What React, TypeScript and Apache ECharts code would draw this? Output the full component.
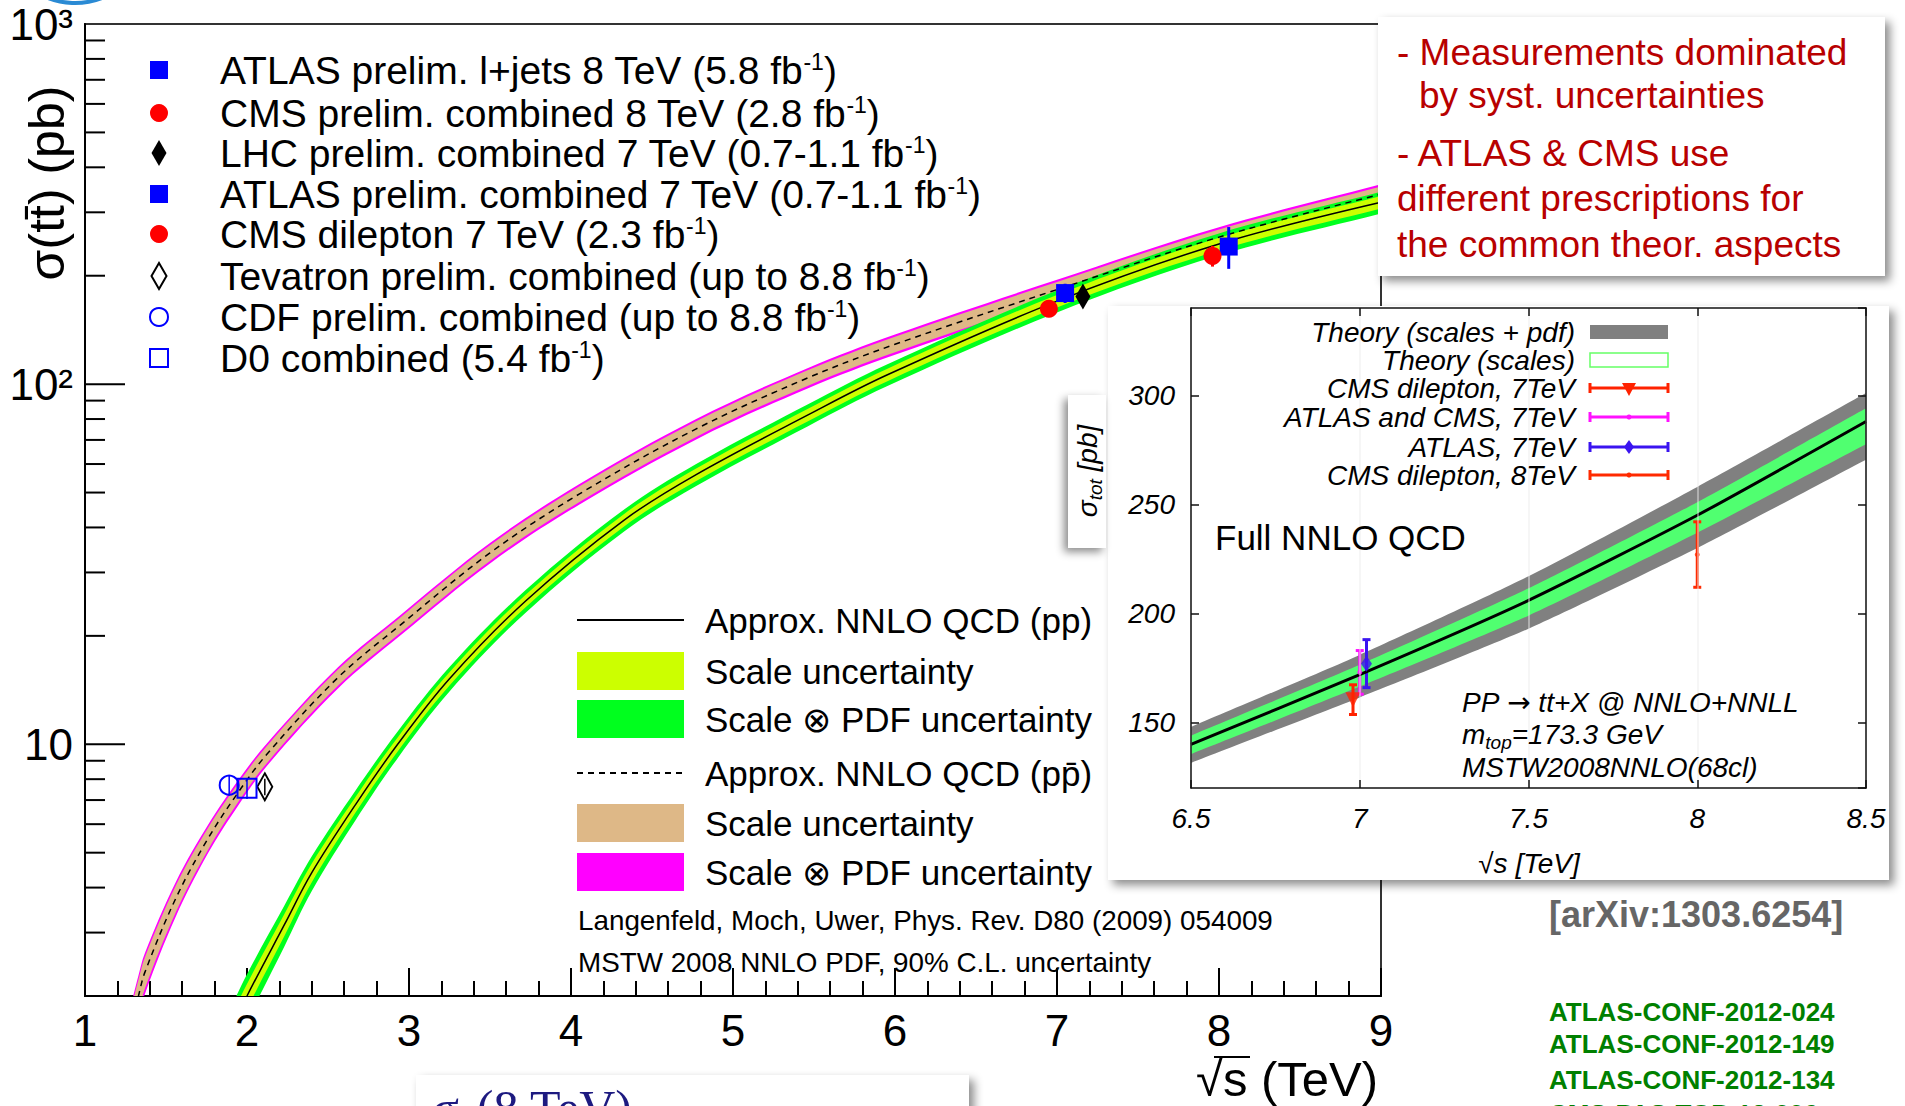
import React, { useEffect, useRef } from 'react';
import * as echarts from 'echarts';

const SANS = "'Liberation Sans', Arial, Helvetica, sans-serif";
const SERIF = "'Liberation Serif', 'Times New Roman', serif";

// ---------- main chart axes ----------
const yMajorTickValues = [10, 100];
const yMinorTickValues = [2, 3, 4, 5, 6, 7, 8, 9, 20, 30, 40, 50, 60, 70, 80, 90, 200, 300, 400, 500, 600, 700, 800, 900];
const yLabelValues = [10, 100, 1000];
const yLabelTexts = ['10', '10²', '10³'];

// ---------- theory curves ----------
const ppEnergy = [1.9, 2.0, 2.23, 2.4, 2.67, 2.93, 3.25, 3.72, 4.33, 4.77, 5.46, 5.95, 7.0, 8.0, 9.0];
const ppSigma = [1.6, 2.0, 3.15, 4.4, 6.8, 10.0, 15.2, 25.0, 42.0, 56.0, 82.0, 106, 170, 245, 320];
const ppScaleUnc = [0.09, 0.08, 0.07, 0.06, 0.05, 0.045, 0.042, 0.04, 0.04, 0.04, 0.04, 0.04, 0.04, 0.04, 0.04];
const ppPdfUnc = [0.16, 0.15, 0.13, 0.11, 0.095, 0.085, 0.078, 0.072, 0.07, 0.07, 0.07, 0.07, 0.07, 0.07, 0.07];

const ppbarEnergy = [1.28, 1.33, 1.37, 1.56, 1.76, 1.95, 2.12, 2.56, 2.95, 3.5, 4.05, 4.77, 5.46, 6.0, 7.0, 8.0, 9.0];
const ppbarSigma = [1.62, 2.0, 2.33, 3.73, 5.48, 7.4, 9.35, 15.3, 21.5, 34.0, 49.5, 75.0, 104, 129, 183, 256, 337];
const ppbarScaleUnc = [0.12, 0.11, 0.1, 0.085, 0.07, 0.06, 0.055, 0.052, 0.05, 0.05, 0.05, 0.05, 0.05, 0.05, 0.05, 0.05, 0.05];
const ppbarPdfUnc = [0.15, 0.14, 0.13, 0.11, 0.09, 0.08, 0.072, 0.068, 0.065, 0.065, 0.065, 0.065, 0.065, 0.065, 0.065, 0.065, 0.065];

// ---------- measurements (main plot) ----------
const measEnergy = [8.06, 7.96, 7.16, 7.05, 6.95, 2.11, 1.89, 2.0];
const measSigma = [241, 227, 175, 179, 162, 7.62, 7.7, 7.55];
const measErr = [32, 15, 10, 11, 7, 0.4, 0.5, 0.5];
const measLabels = [
  'ATLAS prelim. l+jets 8 TeV (5.8 fb{s|-1})',
  'CMS prelim. combined 8 TeV (2.8 fb{s|-1})',
  'LHC prelim. combined 7 TeV (0.7-1.1 fb{s|-1})',
  'ATLAS prelim. combined 7 TeV (0.7-1.1 fb{s|-1})',
  'CMS dilepton 7 TeV (2.3 fb{s|-1})',
  'Tevatron prelim. combined (up to 8.8 fb{s|-1})',
  'CDF prelim. combined (up to 8.8 fb{s|-1})',
  'D0 combined (5.4 fb{s|-1})',
];

const bandLegendLabels = [
  'Approx. NNLO QCD (pp)',
  'Scale uncertainty',
  'Scale ⊗ PDF uncertainty',
  'Approx. NNLO QCD (pp̄)',
  'Scale uncertainty',
  'Scale ⊗ PDF uncertainty',
];

// ---------- inset (Full NNLO) ----------
const insetEnergy = [6.5, 7.0, 7.5, 8.0, 8.5];
const insetCentral = [140, 172, 206, 245, 288];
const insetPdfLo = [131.5, 161.5, 193, 230, 270.5];
const insetPdfHi = [148, 181, 217, 258, 301];
const insetScaleLo = [135.5, 166.5, 199, 237, 277.5];
const insetScaleHi = [144, 176.5, 211.5, 251, 294];
const insetYLabelValues = [150, 200, 250, 300];

const insetMeasEnergy = [6.98, 7.0, 7.02, 8.0];
const insetMeasSigma = [160.5, 173, 177, 227];
const insetMeasErr = [6.8, 10, 11, 15];
const insetLegendLabels = [
  'Theory (scales + pdf)',
  'Theory (scales)',
  'CMS dilepton, 7TeV',
  'ATLAS and CMS, 7TeV',
  'ATLAS, 7TeV',
  'CMS dilepton, 8TeV',
];

const noteLines = [
  '- Measurements dominated',
  'by syst. uncertainties',
  '- ATLAS & CMS use',
  'different prescriptions for',
  'the common theor. aspects',
];
const refLines = ['ATLAS-CONF-2012-024', 'ATLAS-CONF-2012-149', 'ATLAS-CONF-2012-134', 'CMS-PAS-TOP-12-006'];

// ---------- helpers ----------
function band(name: string, xs: number[], lo: number[], hi: number[], color: string, xi: number, yi: number, z: number, smooth: number) {
  return {
    type: 'custom', name, xAxisIndex: xi, yAxisIndex: yi, z, silent: true, clip: true,
    data: [[xs[0], lo[0]]],
    encode: { x: 0, y: 1 },
    renderItem: (params: any, api: any) => {
      const up = xs.map((x, i) => api.coord([x, hi[i]]));
      const dn = xs.map((x, i) => api.coord([x, lo[i]])).reverse();
      const dup = (a: number[][]) => [a[0], ...a, a[a.length - 1]];
      return {
        type: 'polygon',
        shape: { points: [...dup(up), ...dup(dn)], smooth },
        style: { fill: color, stroke: null },
      };
    },
  };
}

function errorSeries(name: string, xs: number[], ys: number[], errs: number[], color: string, width: number, cap: number, xi: number, yi: number, z: number) {
  return {
    type: 'custom', name, xAxisIndex: xi, yAxisIndex: yi, z, silent: true, clip: false,
    data: xs.map((x, i) => [x, ys[i] - errs[i], ys[i] + errs[i]]),
    encode: { x: 0, y: [1, 2] },
    renderItem: (params: any, api: any) => {
      const lo = api.coord([api.value(0), api.value(1)]);
      const hi = api.coord([api.value(0), api.value(2)]);
      const children: any[] = [
        { type: 'line', shape: { x1: lo[0], y1: lo[1], x2: hi[0], y2: hi[1] }, style: { stroke: color, lineWidth: width } },
      ];
      if (cap > 0) {
        children.push({ type: 'line', shape: { x1: lo[0] - cap, y1: lo[1], x2: lo[0] + cap, y2: lo[1] }, style: { stroke: color, lineWidth: width } });
        children.push({ type: 'line', shape: { x1: hi[0] - cap, y1: hi[1], x2: hi[0] + cap, y2: hi[1] }, style: { stroke: color, lineWidth: width } });
      }
      return { type: 'group', children };
    },
  };
}

const measStyles: any[] = [
  { symbol: 'rect', size: 18, color: '#0000ff', border: '#0000ff', err: 3 },
  { symbol: 'circle', size: 18, color: '#ff0000', border: '#ff0000', err: 3 },
  { symbol: 'diamond', size: [15, 26], color: '#000000', border: '#000000', err: 3 },
  { symbol: 'rect', size: 18, color: '#0000ff', border: '#0000ff', err: 3 },
  { symbol: 'circle', size: 18, color: '#ff0000', border: '#ff0000', err: 3 },
  { symbol: 'diamond', size: [15, 27], color: 'rgba(0,0,0,0)', border: '#000000', err: 1.5 },
  { symbol: 'circle', size: 19, color: 'rgba(0,0,0,0)', border: '#0000ff', err: 1.5 },
  { symbol: 'rect', size: 19, color: 'rgba(0,0,0,0)', border: '#0000ff', err: 1.5 },
];

const insetMeasStyles: any[] = [
  { symbol: 'triangle', rotate: 180, size: 15, color: '#ff2200' },
  { symbol: 'circle', rotate: 0, size: 5, color: '#ff11ff' },
  { symbol: 'diamond', rotate: 0, size: [11, 16], color: '#3a14f0' },
  { symbol: 'circle', rotate: 0, size: 5, color: '#ff2a00' },
];

function legendMarker(i: number, cx: number, cy: number): any {
  const s = measStyles[i];
  const filled = s.color !== 'rgba(0,0,0,0)';
  const style = filled ? { fill: s.color } : { fill: 'rgba(0,0,0,0)', stroke: s.border, lineWidth: 2 };
  if (s.symbol === 'rect') return { type: 'rect', z: 5, shape: { x: cx - 9, y: cy - 9, width: 18, height: 18 }, style };
  if (s.symbol === 'circle') return { type: 'circle', z: 5, shape: { cx, cy, r: 9 }, style };
  return { type: 'polygon', z: 5, shape: { points: [[cx, cy - 13], [cx + 7.5, cy], [cx, cy + 13], [cx - 7.5, cy]] }, style };
}

function buildOption(): any {
  const mul = (vals: number[], unc: number[], sign: number) => vals.map((v, i) => v * (1 + sign * unc[i]));
  const ppPdfLo = mul(ppSigma, ppPdfUnc, -1), ppPdfHi = mul(ppSigma, ppPdfUnc, 1);
  const ppScaleLo = mul(ppSigma, ppScaleUnc, -1), ppScaleHi = mul(ppSigma, ppScaleUnc, 1);
  const pbPdfLo = mul(ppbarSigma, ppbarPdfUnc, -1), pbPdfHi = mul(ppbarSigma, ppbarPdfUnc, 1);
  const pbScaleLo = mul(ppbarSigma, ppbarScaleUnc, -1), pbScaleHi = mul(ppbarSigma, ppbarScaleUnc, 1);
  const SM = 0.35;

  const series: any[] = [
    band('ppbarPdf', ppbarEnergy, pbPdfLo, pbPdfHi, '#ff00ff', 0, 0, 2, SM),
    band('ppbarScale', ppbarEnergy, pbScaleLo, pbScaleHi, '#deb887', 0, 0, 2, SM),
    band('ppPdf', ppEnergy, ppPdfLo, ppPdfHi, '#00ff1e', 0, 0, 2, SM),
    band('ppScale', ppEnergy, ppScaleLo, ppScaleHi, '#ccff00', 0, 0, 2, SM),
    {
      type: 'line', name: 'Approx. NNLO QCD (pp̄)', xAxisIndex: 0, yAxisIndex: 0, z: 2, silent: true,
      data: ppbarEnergy.map((x, i) => [x, ppbarSigma[i]]), symbol: 'none', smooth: SM,
      lineStyle: { color: '#000', width: 1.5, type: [6, 5] },
    },
    {
      type: 'line', name: 'Approx. NNLO QCD (pp)', xAxisIndex: 0, yAxisIndex: 0, z: 2, silent: true,
      data: ppEnergy.map((x, i) => [x, ppSigma[i]]), symbol: 'none', smooth: SM,
      lineStyle: { color: '#000', width: 1.5 },
    },
  ];

  measEnergy.forEach((x, i) => {
    const s = measStyles[i];
    series.push(errorSeries('err' + i, [x], [measSigma[i]], [measErr[i]], s.border, s.err, 0, 0, 0, 3));
    series.push({
      type: 'scatter', name: measLabels[i], xAxisIndex: 0, yAxisIndex: 0, z: 3, silent: true,
      data: [[x, measSigma[i]]], symbol: s.symbol, symbolSize: s.size,
      itemStyle: { color: s.color, borderColor: s.border, borderWidth: s.color === 'rgba(0,0,0,0)' ? 2 : 0, opacity: 1 },
    });
  });

  // y-axis ticks of the main log axis
  series.push({
    type: 'custom', name: 'yticks', xAxisIndex: 0, yAxisIndex: 0, z: 4, silent: true, clip: false,
    data: [...yMajorTickValues, ...yMinorTickValues].map((v) => [1, v]),
    encode: { x: 0, y: 1 },
    renderItem: (params: any, api: any) => {
      const v = api.value(1);
      const p = api.coord([1, v]);
      const len = yMajorTickValues.indexOf(v) >= 0 ? 40 : 20;
      return { type: 'line', shape: { x1: p[0], y1: p[1], x2: p[0] + len, y2: p[1] }, style: { stroke: '#000', lineWidth: 2 } };
    },
  });

  // inset
  series.push(band('insetPdf', insetEnergy, insetPdfLo, insetPdfHi, '#808080', 1, 1, 12, 0.2));
  series.push(band('insetScale', insetEnergy, insetScaleLo, insetScaleHi, '#50ff70', 1, 1, 12, 0.2));
  series.push({
    type: 'line', name: 'Full NNLO', xAxisIndex: 1, yAxisIndex: 1, z: 12, silent: true,
    data: insetEnergy.map((x, i) => [x, insetCentral[i]]), symbol: 'none', smooth: 0.2,
    lineStyle: { color: '#000', width: 3 },
  });
  insetMeasEnergy.forEach((x, i) => {
    const s = insetMeasStyles[i];
    series.push(errorSeries('ierr' + i, [x], [insetMeasSigma[i]], [insetMeasErr[i]], s.color, 3, 4, 1, 1, 12));
    series.push({
      type: 'scatter', name: insetLegendLabels[i + 2], xAxisIndex: 1, yAxisIndex: 1, z: 12, silent: true,
      data: [[x, insetMeasSigma[i]]], symbol: s.symbol, symbolRotate: s.rotate, symbolSize: s.size,
      itemStyle: { color: s.color },
    });
  });

  const g: any[] = [];
  // cut-off blue logo arc
  g.push({ type: 'circle', z: 5, silent: true, shape: { cx: 75, cy: -72, r: 75 }, style: { fill: 'none', stroke: '#2a8ad4', lineWidth: 4 } });

  // main y title and x title
  g.push({ type: 'text', z: 5, x: 47, y: 183, rotation: Math.PI / 2, style: { text: 'σ(tt̄) (pb)', fontSize: 50, fontFamily: SANS, fill: '#000', align: 'center', verticalAlign: 'middle' } });
  g.push({ type: 'text', z: 5, x: 1196, y: 1079, style: { text: '√s (TeV)', fontSize: 49, fontFamily: SANS, fill: '#000', align: 'left', verticalAlign: 'middle' } });
  g.push({ type: 'line', z: 5, shape: { x1: 1214, y1: 1057, x2: 1250, y2: 1057 }, style: { stroke: '#000', lineWidth: 2 } });

  // legend 1 (measurements)
  const leg1Y = [70, 113, 153, 194, 234, 276, 317, 358];
  measLabels.forEach((label, i) => {
    g.push(legendMarker(i, 159, leg1Y[i]));
    g.push({
      type: 'text', z: 5, x: 220, y: leg1Y[i],
      style: {
        text: label, fontSize: 39, fontFamily: SANS, fill: '#000', verticalAlign: 'middle', lineHeight: 39,
        rich: { s: { fontSize: 23, fontFamily: SANS, fill: '#000', verticalAlign: 'top', lineHeight: 23 } },
      },
    });
  });

  // legend 2 (theory bands)
  const leg2Y = [620, 671, 719, 773, 823, 872];
  const leg2Fill = [null, '#ccff00', '#00ff1e', null, '#deb887', '#ff00ff'];
  bandLegendLabels.forEach((label, i) => {
    const y = leg2Y[i];
    if (leg2Fill[i]) {
      g.push({ type: 'rect', z: 5, shape: { x: 577, y: y - 19, width: 107, height: 38 }, style: { fill: leg2Fill[i] } });
    } else {
      g.push({ type: 'line', z: 5, shape: { x1: 577, y1: y, x2: 684, y2: y }, style: { stroke: '#000', lineWidth: 2, lineDash: i === 3 ? [6, 5] : null } });
    }
    g.push({ type: 'text', z: 5, x: 705, y, style: { text: label, fontSize: 35, fontFamily: SANS, fill: '#000', verticalAlign: 'middle' } });
  });
  g.push({ type: 'text', z: 5, x: 578, y: 920, style: { text: 'Langenfeld, Moch, Uwer, Phys. Rev. D80 (2009) 054009', fontSize: 27.8, fontFamily: SANS, fill: '#000', verticalAlign: 'middle' } });
  g.push({ type: 'text', z: 5, x: 578, y: 962, style: { text: 'MSTW 2008 NNLO PDF, 90% C.L. uncertainty', fontSize: 27.8, fontFamily: SANS, fill: '#000', verticalAlign: 'middle' } });

  // red note box
  const shadow = { shadowBlur: 10, shadowOffsetX: 5, shadowOffsetY: 5, shadowColor: 'rgba(0,0,0,0.45)' };
  g.push({ type: 'rect', z: 10, silent: true, shape: { x: 1378, y: 17, width: 507, height: 259 }, style: { fill: '#fff', ...shadow } });
  const noteY = [52, 95, 153, 198, 244];
  const noteX = [1397, 1419, 1397, 1397, 1397];
  noteLines.forEach((t, i) => {
    g.push({ type: 'text', z: 11, x: noteX[i], y: noteY[i], style: { text: t, fontSize: 37, fontFamily: SANS, fill: '#b80000', verticalAlign: 'middle' } });
  });

  // inset white box + y-name box
  g.push({ type: 'rect', z: 10, silent: true, shape: { x: 1108, y: 306, width: 781, height: 574 }, style: { fill: '#fff', ...shadow } });
  g.push({ type: 'rect', z: 10, silent: true, shape: { x: 1068, y: 395, width: 38, height: 153 }, style: { fill: '#fff', shadowBlur: 8, shadowOffsetX: -4, shadowOffsetY: 4, shadowColor: 'rgba(0,0,0,0.45)' } });
  g.push({
    type: 'text', z: 15, x: 1087, y: 471, rotation: Math.PI / 2,
    style: {
      text: 'σ{sub|tot} [pb]', fontSize: 28, fontStyle: 'italic', fontFamily: SANS, fill: '#000', align: 'center', verticalAlign: 'middle', lineHeight: 36,
      rich: { sub: { fontSize: 19, fontStyle: 'italic', fontFamily: SANS, fill: '#000', verticalAlign: 'bottom' } },
    },
  });
  g.push({ type: 'text', z: 15, x: 1529, y: 863, style: { text: '√s [TeV]', fontSize: 28, fontStyle: 'italic', fontFamily: SANS, fill: '#000', align: 'center', verticalAlign: 'middle' } });

  // inset legend
  const ilY = [332, 360, 388, 417, 447, 475];
  insetLegendLabels.forEach((t, i) => {
    const y = ilY[i];
    g.push({ type: 'text', z: 15, x: 1575, y, style: { text: t, fontSize: 28, fontStyle: 'italic', fontFamily: SANS, fill: '#000', align: 'right', verticalAlign: 'middle' } });
    if (i === 0) {
      g.push({ type: 'rect', z: 15, shape: { x: 1590, y: y - 7, width: 78, height: 14 }, style: { fill: '#808080' } });
    } else if (i === 1) {
      g.push({ type: 'rect', z: 15, shape: { x: 1590, y: y - 7, width: 78, height: 14 }, style: { fill: '#fff', stroke: '#66ff66', lineWidth: 1.5 } });
    } else {
      const s = insetMeasStyles[i - 2];
      g.push({ type: 'line', z: 15, shape: { x1: 1590, y1: y, x2: 1668, y2: y }, style: { stroke: s.color, lineWidth: 3 } });
      g.push({ type: 'line', z: 15, shape: { x1: 1590, y1: y - 5, x2: 1590, y2: y + 5 }, style: { stroke: s.color, lineWidth: 3 } });
      g.push({ type: 'line', z: 15, shape: { x1: 1668, y1: y - 5, x2: 1668, y2: y + 5 }, style: { stroke: s.color, lineWidth: 3 } });
      if (s.symbol === 'triangle') {
        g.push({ type: 'polygon', z: 15, shape: { points: [[1622, y - 5], [1636, y - 5], [1629, y + 8]] }, style: { fill: s.color } });
      } else if (s.symbol === 'diamond') {
        g.push({ type: 'polygon', z: 15, shape: { points: [[1629, y - 7], [1634, y], [1629, y + 7], [1624, y]] }, style: { fill: s.color } });
      } else {
        g.push({ type: 'circle', z: 15, shape: { cx: 1629, cy: y, r: 2.5 }, style: { fill: s.color } });
      }
    }
  });
  g.push({ type: 'text', z: 15, x: 1215, y: 537, style: { text: 'Full NNLO QCD', fontSize: 35, fontFamily: SANS, fill: '#000', verticalAlign: 'middle' } });
  g.push({
    type: 'text', z: 15, x: 1462, y: 702,
    style: {
      text: 'PP {a|→} tt+X @ NNLO+NNLL', fontSize: 28, fontStyle: 'italic', fontFamily: SANS, fill: '#000', verticalAlign: 'middle',
      rich: { a: { fontSize: 28, fontFamily: "'DejaVu Sans', sans-serif", fill: '#000' } },
    },
  });
  g.push({
    type: 'text', z: 15, x: 1462, y: 734,
    style: {
      text: 'm{sub|top}=173.3 GeV', fontSize: 28, fontStyle: 'italic', fontFamily: SANS, fill: '#000', verticalAlign: 'middle', lineHeight: 36,
      rich: { sub: { fontSize: 19, fontStyle: 'italic', fontFamily: SANS, fill: '#000', verticalAlign: 'bottom' } },
    },
  });
  g.push({ type: 'text', z: 15, x: 1462, y: 767, style: { text: 'MSTW2008NNLO(68cl)', fontSize: 28, fontStyle: 'italic', fontFamily: SANS, fill: '#000', verticalAlign: 'middle' } });

  // right-bottom references
  g.push({ type: 'text', z: 5, x: 1549, y: 914, style: { text: '[arXiv:1303.6254]', fontSize: 36, fontWeight: 'bold', fontFamily: SANS, fill: '#666666', verticalAlign: 'middle' } });
  const refY = [1012, 1044, 1080, 1114];
  refLines.forEach((t, i) => {
    g.push({ type: 'text', z: 5, x: 1549, y: refY[i], style: { text: t, fontSize: 26, fontWeight: 'bold', fontFamily: SANS, fill: '#008000', verticalAlign: 'middle' } });
  });

  // bottom cut-off box
  g.push({ type: 'rect', z: 10, silent: true, shape: { x: 416, y: 1075, width: 553, height: 80 }, style: { fill: '#fff', ...shadow } });
  g.push({
    type: 'text', z: 11, x: 432, y: 1080,
    style: {
      text: 'σ{sub|tt̄}(8 TeV)', fontSize: 50, fontFamily: SERIF, fill: '#1d1a80', verticalAlign: 'top', lineHeight: 56,
      rich: { sub: { fontSize: 32, fontFamily: SERIF, fill: '#1d1a80', verticalAlign: 'bottom' } },
    },
  });

  const blackLine = { color: '#000', width: 2 };
  const insetLine = { color: '#111', width: 1.5 };

  return {
    animation: false,
    backgroundColor: '#ffffff',
    textStyle: { fontFamily: SANS },
    grid: [
      { left: 85, top: 24, width: 1296, height: 972, show: true, borderColor: '#333', borderWidth: 2, z: 0 },
      { left: 1191, top: 308, width: 675, height: 480, show: false, z: 11 },
    ],
    xAxis: [
      {
        gridIndex: 0, type: 'value', min: 1, max: 9, interval: 1,
        axisLine: { show: true, lineStyle: blackLine },
        axisTick: { show: true, inside: true, length: 28, lineStyle: blackLine },
        minorTick: { show: true, splitNumber: 5, length: 15, lineStyle: blackLine },
        axisLabel: { fontSize: 44, color: '#000', fontFamily: SANS, margin: 12 },
        splitLine: { show: false },
      },
      {
        gridIndex: 1, type: 'value', min: 6.5, max: 8.5, interval: 0.5, z: 13,
        axisLine: { show: true, lineStyle: insetLine },
        axisTick: { show: true, inside: true, length: 8, lineStyle: insetLine },
        axisLabel: { fontSize: 28, fontStyle: 'italic', color: '#000', fontFamily: SANS, margin: 16 },
        splitLine: { show: false },
      },
      {
        gridIndex: 1, type: 'value', position: 'top', min: 6.5, max: 8.5, interval: 0.5, z: 13,
        axisLine: { show: true, lineStyle: insetLine },
        axisTick: { show: true, inside: true, length: 8, lineStyle: insetLine },
        axisLabel: { show: false },
        splitLine: { show: true, lineStyle: { color: 'rgba(235,235,235,0.6)', width: 1.5 } },
      },
    ],
    yAxis: [
      {
        gridIndex: 0, type: 'log', logBase: 10, min: 2, max: 1000,
        axisLine: { show: true, lineStyle: blackLine },
        axisTick: { show: false },
        splitLine: { show: false },
        axisLabel: {
          fontSize: 44, color: '#000', fontFamily: SANS, margin: 12, showMinLabel: false, showMaxLabel: true,
          formatter: (v: number) => {
            for (let i = 0; i < yLabelValues.length; i++) {
              if (Math.abs(v - yLabelValues[i]) / yLabelValues[i] < 1e-6) return yLabelTexts[i];
            }
            return '';
          },
        },
      },
      {
        gridIndex: 1, type: 'value', min: 120, max: 340, z: 13,
        axisLine: { show: true, lineStyle: insetLine },
        axisTick: { show: true, inside: true, length: 8, lineStyle: insetLine },
        splitLine: { show: false },
        axisLabel: {
          fontSize: 28, fontStyle: 'italic', color: '#000', fontFamily: SANS, margin: 16, showMinLabel: false, showMaxLabel: false,
          formatter: (v: number) => (insetYLabelValues.indexOf(Math.round(v)) >= 0 ? String(Math.round(v)) : ''),
        },
      },
      {
        gridIndex: 1, type: 'value', position: 'right', min: 120, max: 340, z: 13,
        axisLine: { show: true, lineStyle: insetLine },
        axisTick: { show: true, inside: true, length: 8, lineStyle: insetLine },
        axisLabel: { show: false },
        splitLine: { show: false },
      },
    ],
    series,
    graphic: g,
  };
}

export default function App() {
  const ref = useRef<HTMLDivElement>(null);
  useEffect(() => {
    document.body.style.margin = '0';
    const chart = echarts.init(ref.current as HTMLDivElement, null, { renderer: 'svg' });
    chart.setOption(buildOption());
    return () => {
      chart.dispose();
    };
  }, []);
  return <div ref={ref} style={{ position: 'fixed', left: 0, top: 0, width: 1905, height: 1106, background: '#fff' }} />;
}
